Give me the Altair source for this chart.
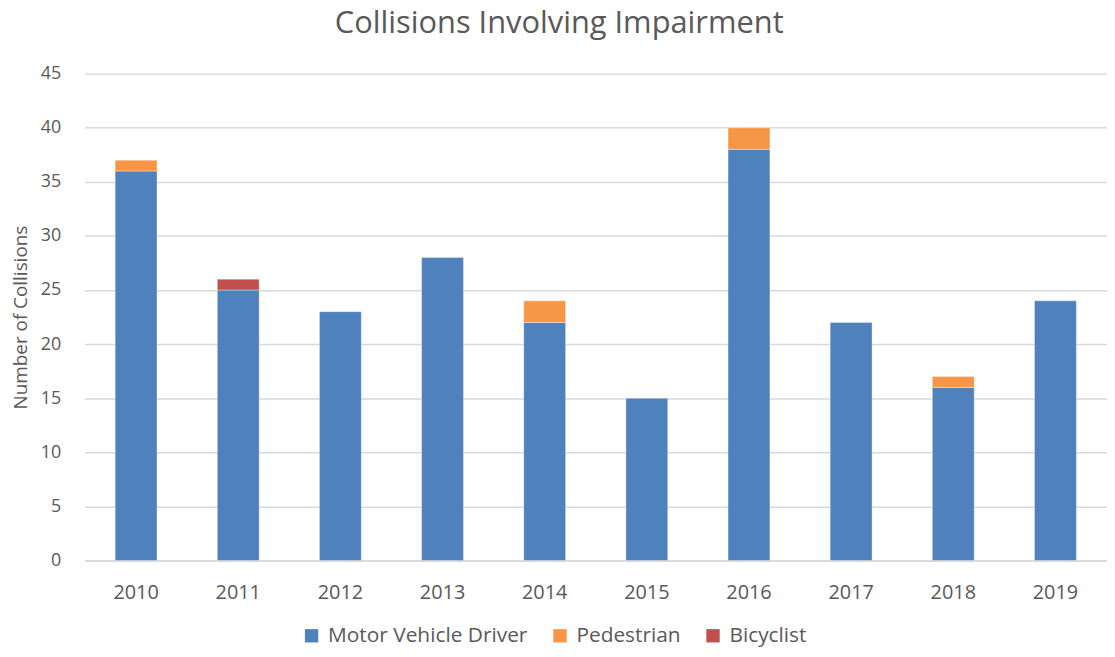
import altair as alt
import pandas as pd

years = ["2010", "2011", "2012", "2013", "2014", "2015", "2016", "2017", "2018", "2019"]
motor = [36, 25, 23, 28, 22, 15, 38, 22, 16, 24]
pedestrian = [1, 0, 0, 0, 2, 0, 2, 0, 1, 0]
bicyclist = [0, 1, 0, 0, 0, 0, 0, 0, 0, 0]
series = ["Motor Vehicle Driver", "Pedestrian", "Bicyclist"]
colors = ["#4F81BD", "#F79646", "#C0504D"]

rows = []
for i, y in enumerate(years):
    for k, (name, vals) in enumerate(zip(series, [motor, pedestrian, bicyclist])):
        if vals[i] > 0:
            rows.append({"Year": y, "Type": name, "Count": vals[i], "order": k})
df = pd.DataFrame(rows)

font = "Open Sans"
chart = alt.Chart(df).mark_bar(stroke="#ffffff", strokeWidth=0.6, strokeOpacity=0.6).encode(
    x=alt.X("Year:N", sort=years, title=None,
            scale=alt.Scale(paddingInner=0.59, paddingOuter=0.3),
            axis=alt.Axis(labelAngle=0, ticks=False, domainColor="#D9D9D9", domainWidth=1.5,
                          labelFontSize=20, labelColor="#595959", labelFont=font, labelPadding=22)),
    y=alt.Y("Count:Q", stack="zero", title="Number of Collisions",
            scale=alt.Scale(domain=[0, 45], nice=False),
            axis=alt.Axis(values=list(range(0, 46, 5)), ticks=False, domain=False,
                          gridColor="#D9D9D9", gridWidth=1.5,
                          labelFontSize=18, labelColor="#595959", labelFont=font, labelPadding=24,
                          titleFontSize=19, titleColor="#595959", titleFont=font,
                          titleFontWeight="normal", titlePadding=10)),
    color=alt.Color("Type:N", sort=series,
                    scale=alt.Scale(domain=series, range=colors),
                    legend=alt.Legend(title=None, orient="none", direction="horizontal",
                                      legendX=218, legendY=555, symbolType="square",
                                      symbolSize=180, symbolStrokeWidth=0, labelLimit=400,
                                      labelFontSize=21, labelColor="#595959", labelFont=font,
                                      columnPadding=22, labelOffset=6)),
    order=alt.Order("order:Q"),
).properties(
    width=1029, height=490,
    title=alt.TitleParams("Collisions Involving Impairment", fontSize=31, font=font,
                          fontWeight="normal", color="#595959", anchor="middle",
                          frame="bounds", offset=25),
    autosize=alt.AutoSizeParams(type="none"),
    padding={"left": 77, "top": 64, "right": 0, "bottom": 87},
).configure_view(stroke=None)

chart.save("out.html", embed_options={"renderer": "svg", "actions": False})
